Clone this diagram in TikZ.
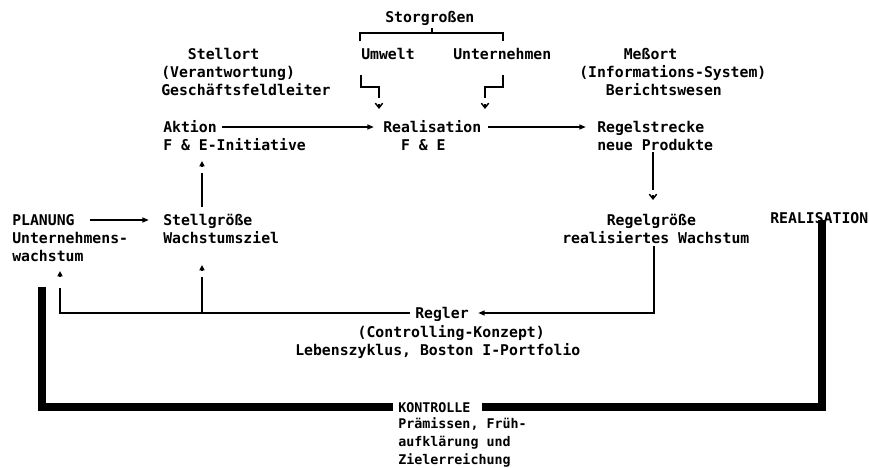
\documentclass[tikz,border=0pt]{standalone}
\usepackage{fontspec}
\setmonofont{DejaVu Sans Mono}
\usetikzlibrary{arrows.meta,calc}
\begin{document}
\begin{tikzpicture}[x=0.75pt,y=-0.75pt,
  txt/.style={anchor=base west, inner sep=0pt, align=left,
    font=\ttfamily\bfseries\fontsize{11.1}{13.5}\selectfont},
  smalltxt/.style={txt, font=\ttfamily\bfseries\fontsize{10}{13.3}\selectfont},
  flow/.style={line width=1.3pt},
  head/.style={flow, -{Triangle[length=5pt,width=3.6pt]}},
  uptip/.style={flow, -{Triangle[length=4pt,width=3.8pt]}},
  vtip/.style={line width=1.1pt, -{Straight Barb[length=3.5pt,width=5.5pt]}},
  loop/.style={line width=6.2pt, line join=miter}]
\useasboundingbox (0,0) rectangle (869,468);

% text blocks (each placed at the baseline of its last line)
\node[txt] (stoer)    at (385,22)  {Storgroßen};
\node[txt] (umwelt)   at (361,59)  {Umwelt};
\node[txt] (untern)   at (453,59)  {Unternehmen};
\node[txt] (stellort) at (161,95)  {\phantom{xxx}Stellort\\(Verantwortung)\\Geschäftsfeldleiter};
\node[txt] (messort)  at (579,95)  {\phantom{xxxxx}Meßort\\(Informations-System)\\\phantom{xxx}Berichtswesen};
\node[txt] (aktion)   at (163,150) {Aktion\\F \& E-Initiative};
\node[txt] (realis)   at (383,150) {Realisation\\\phantom{xx}F \& E};
\node[txt] (strecke)  at (597,150) {Regelstrecke\\neue Produkte};
\node[txt] (planung)  at (12,261)  {PLANUNG\\Unternehmens-\\wachstum};
\node[txt] (stellg)   at (163,243) {Stellgröße\\Wachstumsziel};
\node[txt] (regelg)   at (562,243) {\phantom{xxxxx}Regelgröße\\realisiertes Wachstum};
\node[txt] (realbig)  at (770,223) {REALISATION};
\node[txt] (regler)   at (415,318) {Regler};
\node[txt] (reglertx) at (295,355) {\phantom{xxxxxxx}(Controlling-Konzept)\\Lebenszyklus, Boston I-Portfolio};
\node[smalltxt] (kontr)   at (398,412) {KONTROLLE};
\node[smalltxt] (kontrtx) at (398,464) {Prämissen, Früh-\\aufklärung und\\Zielerreichung};

% connector end points
\coordinate (br-l)  at (360,41);
\coordinate (br-r)  at (503,41);
\coordinate (br-m)  at (432,33);
\coordinate (br-t)  at (432,28);
\coordinate (um-a)  at (361,75);
\coordinate (um-b)  at (379,98);
\coordinate (un-a)  at (503,75);
\coordinate (un-b)  at (485,98);
\coordinate (ak-o)  at (222,127);
\coordinate (re-i)  at (374,127);
\coordinate (re-o)  at (488,127);
\coordinate (st-i)  at (586,127);
\coordinate (st-o)  at (653,152);
\coordinate (st-e)  at (653,190);
\coordinate (rg-o)  at (654,246);
\coordinate (rl-i)  at (478,313);
\coordinate (rl-o)  at (410,313);
\coordinate (pl-e)  at (60,288);
\coordinate (sg-b)  at (202,313);
\coordinate (sg-e)  at (202,277);
\coordinate (pl-o)  at (90,220);
\coordinate (sg-i)  at (149,220);
\coordinate (sg-o)  at (202,207);
\coordinate (ak-e)  at (202,173);
\coordinate (lp-r)  at (822,220);
\coordinate (lp-k1) at (482,407);
\coordinate (lp-k0) at (393,407);
\coordinate (lp-l)  at (42,287);

% disturbance bracket and inputs
\draw[flow] (br-l) |- (br-m) -| (br-r);
\draw[flow] (br-m) -- (br-t);
\draw[flow] (um-a) |- ($(um-b)+(0,-11)$) -- (um-b);
\draw[flow] (un-a) |- ($(un-b)+(0,-11)$) -- (un-b);
\draw[vtip] (379,104.3) -- (379,109);
\draw[vtip] (485,104.3) -- (485,109);

% main control loop
\draw[head] (ak-o) -- (re-i);
\draw[head] (re-o) -- (st-i);
\draw[flow] (st-o) -- (st-e);
\draw[vtip] (653,195.3) -- (653,200);
\draw[head] (rg-o) |- (rl-i);
\draw[flow] (rl-o) -| (pl-e);
\draw[uptip] (60,276.3) -- (60,271);
\draw[flow] (sg-b) -- (sg-e);
\draw[uptip] (202,270.3) -- (202,265);
\draw[head] (pl-o) -- (sg-i);
\draw[flow] (sg-o) -- (ak-e);
\draw[uptip] (202,166.3) -- (202,161);

% outer control frame
\draw[loop] (lp-r) |- (lp-k1);
\draw[loop] (lp-k0) -| (lp-l);
\end{tikzpicture}
\end{document}
